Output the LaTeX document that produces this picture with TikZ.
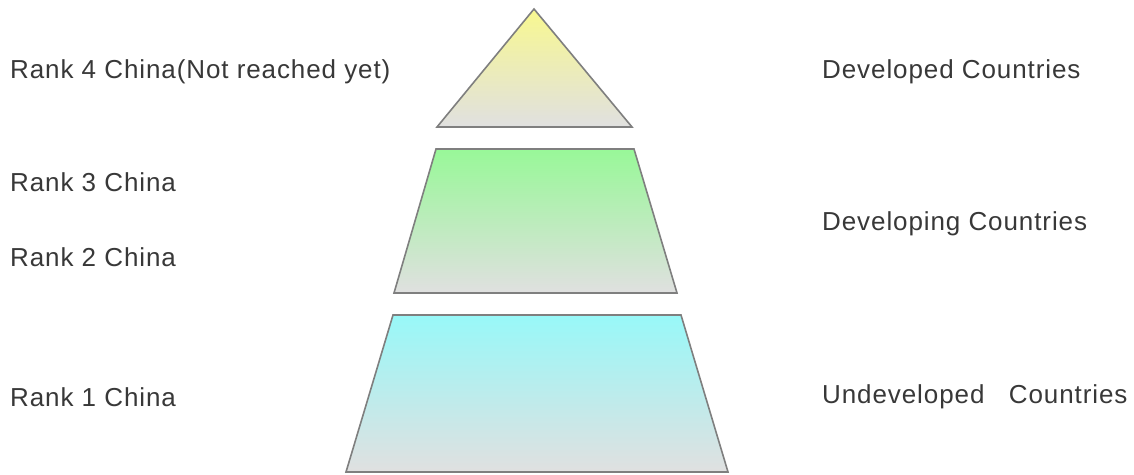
\documentclass[tikz,border=0pt]{standalone}
\usepackage{fontspec}
\setmainfont{Liberation Sans}
\definecolor{txt}{HTML}{383838}
\definecolor{edge}{HTML}{7F7F7F}
\definecolor{base}{HTML}{E0E0E0}
\definecolor{ytop}{HTML}{F8F890}
\definecolor{gtop}{HTML}{98F898}
\definecolor{btop}{HTML}{98F8F8}
\begin{document}
\begin{tikzpicture}[x=1pt,y=-1pt,
  lbl/.style={anchor=west,inner sep=0pt,text=txt,font=\fontsize{26}{31}\selectfont\addfontfeature{LetterSpace=3.5}},
  tier/.style={draw=edge,line width=1.6pt,line join=miter}]
\useasboundingbox (0,0) rectangle (1134,474);
% tier 4 (triangle)
\coordinate (t4a) at (534,9);
\coordinate (t4l) at (437,127);
\coordinate (t4r) at (632,127);
\path[tier,top color=ytop,bottom color=base] (t4a) -- (t4r) -- (t4l) -- cycle;
% tier 2-3 (green)
\coordinate (t3tl) at (436,149);
\coordinate (t3tr) at (634,149);
\coordinate (t3br) at (677,293);
\coordinate (t3bl) at (394,293);
\path[tier,top color=gtop,bottom color=base] (t3tl) -- (t3tr) -- (t3br) -- (t3bl) -- cycle;
% tier 1 (blue)
\coordinate (t1tl) at (393,315);
\coordinate (t1tr) at (681,315);
\coordinate (t1br) at (728,472);
\coordinate (t1bl) at (346,472);
\path[tier,top color=btop,bottom color=base] (t1tl) -- (t1tr) -- (t1br) -- (t1bl) -- cycle;
% labels
\node[lbl] (r4) at (10,72) {Rank 4 China(Not reached yet)};
\node[lbl] (r3) at (10,182) {Rank 3 China};
\node[lbl] (r2) at (10,257) {Rank 2 China};
\node[lbl] (r1) at (10,397) {Rank 1 China};
\node[lbl] (dc) at (822,72) {Developed Countries};
\node[lbl] (dg) at (822,224) {Developing Countries};
\node[lbl] (uc) at (822,397) {Undeveloped\ \ \ Countries};
\end{tikzpicture}
\end{document}
